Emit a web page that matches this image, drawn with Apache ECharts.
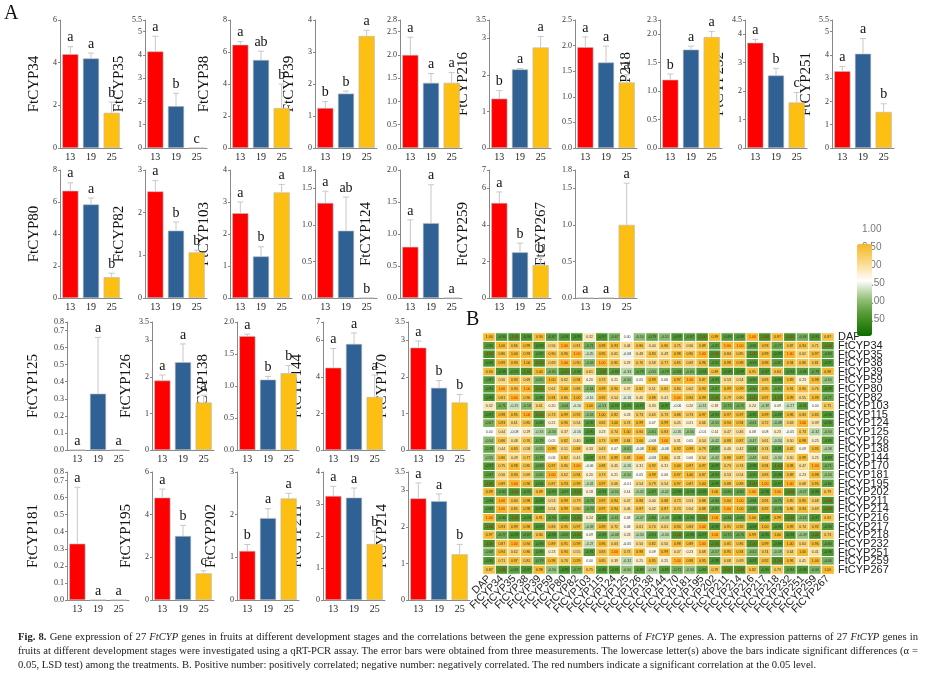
<!DOCTYPE html>
<html><head><meta charset="utf-8">
<script src="https://cdn.jsdelivr.net/npm/echarts@6/dist/echarts.min.js"></script>
<style>
body{margin:0;background:#fff;}
#chart{width:933px;height:700px;position:absolute;left:0;top:0;}
#cap{position:absolute;left:18px;top:630px;width:900px;font:10.6px/14px "Liberation Serif",serif;color:#222;text-align:justify;}
</style></head><body>
<div id="chart"></div>
<div id="cap"><b>Fig. 8.</b> Gene expression of 27 <i>FtCYP</i> genes in fruits at different development stages and the correlations between the gene expression patterns of <i>FtCYP</i> genes. A. The expression patterns of 27 <i>FtCYP</i> genes in fruits at different development stages were investigated using a qRT-PCR assay. The error bars were obtained from three measurements. The lowercase letter(s) above the bars indicate significant differences (α = 0.05, LSD test) among the treatments. B. Positive number: positively correlated; negative number: negatively correlated. The red numbers indicate a significant correlation at the 0.05 level.</div>
<script>
var stages = ["13", "19", "25"];
var dap = [13, 19, 25];
var genes = ["FtCYP34","FtCYP35","FtCYP38","FtCYP39","FtCYP59","FtCYP216","FtCYP217","FtCYP218","FtCYP232","FtCYP251",
  "FtCYP80","FtCYP82","FtCYP103","FtCYP115","FtCYP124","FtCYP259","FtCYP267",
  "FtCYP125","FtCYP126","FtCYP138","FtCYP144","FtCYP170",
  "FtCYP181","FtCYP195","FtCYP202","FtCYP211","FtCYP214"];
var means = [
  [4.4,4.2,1.65],[4.15,1.8,0],[6.45,5.5,2.5],[1.25,1.7,3.5],[2.0,1.4,1.4],[1.35,2.15,2.75],[1.97,1.67,1.28],[1.2,1.73,1.95],[3.7,2.55,1.6],[3.3,4.05,1.55],
  [6.7,5.85,1.3],[2.5,1.58,1.07],[2.65,1.3,3.3],[1.3,0.92,0],[0.8,1.17,0],[5.2,2.5,1.8],[0,0,1.0],
  [0,0.33,0],[1.9,2.4,1.3],[1.78,1.1,1.2],[4.5,5.8,2.9],[2.8,1.7,1.3],
  [0.33,0,0],[4.8,3.0,1.25],[1.15,1.92,2.38],[3.25,3.2,1.75],[2.78,2.7,1.25]];
var errs = [
  [0.35,0.25,0.5],[0.65,0.55,0],[0.2,0.55,1.5],[0.2,0.08,0.18],[0.38,0.2,0.22],[0.22,0.02,0.3],[0.2,0.32,0.15],[0.1,0.06,0.1],[0.12,0.25,0.35],[0.2,0.65,0.35],
  [0.5,0.4,0.25],[0.25,0.2,0.05],[0.35,0.3,0.25],[0.16,0.46,0],[0.42,0.6,0],[0.6,0.5,0.45],[0,0,0.57],
  [0,0.33,0],[0.15,0.5,0.2],[0.03,0.05,0.12],[1.05,0.6,1.2],[0.18,0.2,0.22],
  [0.33,0,0],[0.4,0.5,0.12],[0.15,0.22,0.12],[0.3,0.3,0.4],[0.42,0.2,0.27]];
var letters = [
  "a a b","a b c","a ab b","b b a","a a a","b a a","a a a","b a a","a b c","a a b",
  "a a b","a b b","a b a","a ab b","a a a","a b b","a a a",
  "a a a","a a a","a b b","a a a","a b b",
  "a a a","a b c","b a a","a a b","a a b"];
var yMax = [6,5.5,8,4,2.75,3.5,2.5,2.25,4.5,5.5, 8,3,4,1.75,2,7,1.75, 0.75,3.5,2,7,3.5, 0.75,6,3,4,3.5];
var yStep = [2,1,2,1,0.5,1,0.5,0.5,1,1, 2,1,1,0.5,0.5,2,0.5, 0.1,1,0.5,2,1, 0.1,2,1,1,1];
var heatLabels = ["DAP","FtCYP34","FtCYP35","FtCYP38","FtCYP39","FtCYP59","FtCYP80","FtCYP82","FtCYP103","FtCYP115","FtCYP124","FtCYP125","FtCYP126","FtCYP138","FtCYP144","FtCYP170","FtCYP181","FtCYP195","FtCYP202","FtCYP211","FtCYP214","FtCYP216","FtCYP217","FtCYP218","FtCYP232","FtCYP251","FtCYP259","FtCYP267"];
var legendTicks = ["1.00","0.50","0.00","-0.50","-1.00","-1.50"];

var barColors = ["#ff0000", "#2f6194", "#fdbf12"];
var serif = "Liberation Serif";

// panel layout: rows of small bar charts
var rowTops = [20, 170, 322, 472];
var rowCols = [[60,145,230,315,400,489,575,660,745,832],[60,145,230,315,400,489,575],[67,152,237,323,408],[67,152,237,323,408]];
var panelW = 62, panelH = 128;

var grids = [], xAxes = [], yAxes = [], series = [];
var gi = 0;
rowCols.forEach(function (cols, r) {
  cols.forEach(function (left) {
    var i = gi;
    grids.push({ left: left, top: rowTops[r], width: panelW, height: panelH });
    xAxes.push({ gridIndex: i, type: "category", data: stages,
      axisLine: { lineStyle: { color: "#888" } }, axisTick: { show: false },
      axisLabel: { color: "#222", fontFamily: serif, fontSize: 10, margin: 4 } });
    yAxes.push({ gridIndex: i, type: "value", min: 0, max: yMax[i], interval: yStep[i],
      name: genes[i], nameLocation: "middle", nameRotate: 90, nameGap: yStep[i] < 1 ? 26 : 18,
      nameTextStyle: { fontFamily: serif, fontSize: 15, color: "#111" },
      axisLine: { show: true, lineStyle: { color: "#888" } },
      axisTick: { show: true, length: 2, lineStyle: { color: "#888" } }, splitLine: { show: false },
      axisLabel: { color: "#333", fontFamily: serif, fontSize: 8, margin: 3,
        formatter: function (v) { return yStep[i] < 1 ? v.toFixed(1) : String(v); } } });
    series.push({ type: "bar", xAxisIndex: i, yAxisIndex: i, barWidth: "78%", silent: true,
      data: means[i].map(function (v, k) {
        return { value: v, itemStyle: { color: barColors[k], borderColor: "#bbb", borderWidth: 0.6 } };
      }) });
    var lets = letters[i].split(" ");
    series.push({ type: "custom", xAxisIndex: i, yAxisIndex: i, silent: true, z: 5,
      data: means[i].map(function (v, k) { return [k, v, errs[i][k], lets[k]]; }),
      renderItem: function (params, api) {
        var base = api.coord([api.value(0), api.value(1)]);
        var top = api.coord([api.value(0), api.value(1) + api.value(2)]);
        var ch = [];
        if (api.value(2) > 0) {
          ch.push({ type: "line", shape: { x1: base[0], y1: base[1], x2: top[0], y2: top[1] }, style: { stroke: "#c8c8c8", lineWidth: 1 } });
          ch.push({ type: "line", shape: { x1: top[0] - 3, y1: top[1], x2: top[0] + 3, y2: top[1] }, style: { stroke: "#c8c8c8", lineWidth: 1 } });
        }
        ch.push({ type: "text", x: top[0], y: top[1] - 2, style: { text: lets[params.dataIndex], fontFamily: serif, fontSize: 14, fill: "#111", align: "center", verticalAlign: "bottom" } });
        return { type: "group", children: ch };
      } });
    gi++;
  });
});

// correlation matrix from the bar data (DAP + genes in heatmap order)
function pearson(a, b) {
  var ma = (a[0] + a[1] + a[2]) / 3, mb = (b[0] + b[1] + b[2]) / 3, sab = 0, saa = 0, sbb = 0;
  for (var k = 0; k < 3; k++) { sab += (a[k] - ma) * (b[k] - mb); saa += (a[k] - ma) * (a[k] - ma); sbb += (b[k] - mb) * (b[k] - mb); }
  if (saa === 0 || sbb === 0) return 0;
  return sab / Math.sqrt(saa * sbb);
}
var profiles = heatLabels.map(function (n) { return n === "DAP" ? dap : means[genes.indexOf(n)]; });
var heat = [];
for (var yi = 0; yi < heatLabels.length; yi++)
  for (var xi = 0; xi < heatLabels.length; xi++)
    heat.push([xi, yi, +pearson(profiles[xi], profiles[yi]).toFixed(2)]);

var hg = grids.length;
grids.push({ left: 483, top: 333, width: 351, height: 241 });
xAxes.push({ gridIndex: hg, type: "category", data: heatLabels, axisLine: { show: false }, axisTick: { show: false },
  axisLabel: { interval: 0, rotate: 45, fontFamily: "Liberation Sans", fontSize: 10.5, color: "#222", margin: 3 } });
yAxes.push({ gridIndex: hg, type: "category", data: heatLabels, inverse: true, position: "right", axisLine: { show: false }, axisTick: { show: false },
  axisLabel: { interval: 0, fontFamily: "Liberation Sans", fontSize: 11, color: "#222", margin: 4 } });
series.push({ type: "heatmap", xAxisIndex: hg, yAxisIndex: hg, data: heat, silent: true,
  itemStyle: { borderColor: "#fff", borderWidth: 1 },
  label: { show: true, fontSize: 3.5, color: "#333",
    formatter: function (p) { return p.value[2].toFixed(2); },
    rich: {} } });
// red labels for significant correlations
series[series.length - 1].data = heat.map(function (d) {
  return Math.abs(d[2]) >= 0.997 && d[0] !== d[1] ? { value: d, label: { color: "#e00000" } } : d;
});

var graphics = [
  { type: "text", left: 4, top: 4, style: { text: "A", fontFamily: serif, fontSize: 20, fill: "#111" } },
  { type: "text", left: 466, top: 310, style: { text: "B", fontFamily: serif, fontSize: 20, fill: "#111" } }
];
legendTicks.forEach(function (t, k) {
  graphics.push({ type: "text", left: 862, top: 224 + k * 18, style: { text: t, fontFamily: "Liberation Sans", fontSize: 10, fill: "#777" } });
});

var chart = echarts.init(document.getElementById("chart"));
chart.setOption({
  animation: false,
  grid: grids, xAxis: xAxes, yAxis: yAxes, series: series, graphic: graphics,
  visualMap: { type: "continuous", min: -1.5, max: 1, seriesIndex: series.length - 1, calculable: false,
    left: 842, top: 229, itemWidth: 15, itemHeight: 92, text: ["", ""], showLabel: false, textStyle: { fontSize: 0 },
    inRange: { color: ["#0f6a00","#2a7f10","#48922a","#6aa74c","#93c07a","#c8deb9","#ffffff","#fcecc4","#f9d98a","#f7c856","#f5b82a"] } }
});
</script>
</body></html>
